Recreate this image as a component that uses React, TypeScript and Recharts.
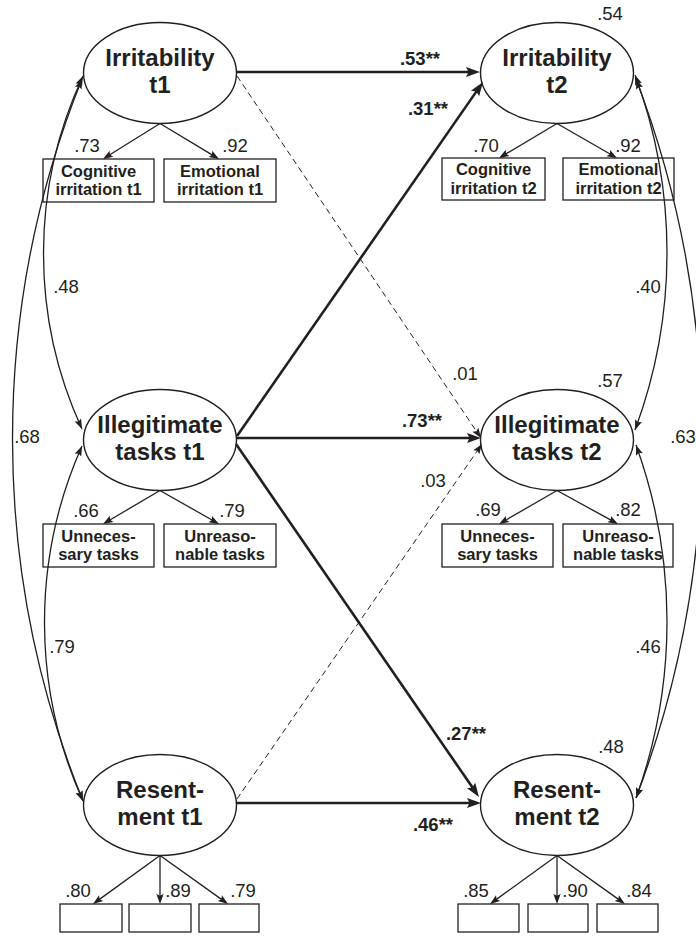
import React from 'react';
import { ComposedChart, XAxis, YAxis, Scatter, ReferenceLine } from 'recharts';

const INK = '#231f20';
const FONT = '"Liberation Sans", Arial, Helvetica, sans-serif';

// ---------------- values ----------------
const latentLabels: string[][] = [
  ['Irritability', 't1'], ['Illegitimate', 'tasks t1'], ['Resent-', 'ment t1'],
  ['Irritability', 't2'], ['Illegitimate', 'tasks t2'], ['Resent-', 'ment t2'],
];
const indicatorLabels: string[][] = [
  ['Cognitive', 'irritation t1'], ['Emotional', 'irritation t1'],
  ['Unneces-', 'sary tasks'], ['Unreaso-', 'nable tasks'],
  [], [], [],
  ['Cognitive', 'irritation t2'], ['Emotional', 'irritation t2'],
  ['Unneces-', 'sary tasks'], ['Unreaso-', 'nable tasks'],
  [], [], [],
];
const loadingValues = ['.73', '.92', '.66', '.79', '.80', '.89', '.79', '.70', '.92', '.69', '.82', '.85', '.90', '.84'];
const r2Values = ['.54', '.57', '.48'];
const pathValues = ['.53**', '.31**', '.01', '.73**', '.27**', '.03', '.46**'];
const pathSignificant = [true, true, false, true, true, false, true];
const corrValues = ['.48', '.68', '.79', '.40', '.63', '.46'];

// ---------------- layout (diagram coordinates, mapped through the axes) ----------------
const latentX = [160, 160, 160, 557, 557, 557];
const latentY = [73, 440, 805, 73, 440, 805];

const indicatorOwner = [0, 0, 1, 1, 2, 2, 2, 3, 3, 4, 4, 5, 5, 5];
const indicatorX = [98.5, 220, 98.5, 220, 91, 160, 229, 493.5, 618.5, 497.5, 618, 488.5, 558, 627.5];
const indicatorY = [180.5, 180.5, 545.5, 545.5, 918, 918, 918, 179, 179, 545.5, 545.5, 918, 918, 918];
const indicatorW = [111, 112, 111, 112, 62, 62, 60, 103, 111, 111, 110, 61, 60, 61];
const indicatorH = [43, 43, 43, 43, 28, 28, 28, 42, 42, 43, 43, 28, 28, 28];
const loadingTipX = [103, 219, 103, 219, 93, 160, 228, 499, 617, 499, 618, 490, 557, 625];
const loadingLabelX = [87, 235, 86, 232, 78, 178, 243, 486, 628, 488, 628, 476, 575, 639];
const loadingLabelY = [152, 152, 517, 517, 897, 897, 897, 152, 152, 516, 516, 897, 897, 897];

const r2LabelX = [610, 610, 611];
const r2LabelY = [20, 387, 753];

const pathFrom = [[237, 72], [237, 436], [237, 76], [237, 438], [236, 444], [237, 799], [237, 803]];
const pathTo = [[480, 72], [483, 82], [481, 438], [481, 438], [479, 797], [482, 444], [481, 803]];
const pathLabelX = [420, 428, 465, 422, 466, 433, 433];
const pathLabelY = [65, 115, 380, 427, 740, 487, 831];

const corrFrom = [[83, 76], [82, 79], [82, 446], [635, 75], [636, 79], [636, 445]];
const corrTo = [[82, 429], [83, 801], [83, 801], [635, 430], [636, 798], [636, 798]];
const corrBulge = [-39, -70, -38, 32, 66, 31];
const corrLabelX = [66, 27, 62, 648, 683, 648];
const corrLabelY = [293, 443, 653, 293, 443, 653];

// ---------------- derived chart data ----------------
const latentData = latentX.map((x, i) => ({ x, y: latentY[i], lines: latentLabels[i] }));
const indicatorData = indicatorX.map((x, i) => ({
  x, y: indicatorY[i], w: indicatorW[i], h: indicatorH[i], lines: indicatorLabels[i],
}));
const labelData = [
  ...loadingValues.map((t, i) => ({ x: loadingLabelX[i], y: loadingLabelY[i], t, bold: false })),
  ...r2Values.map((t, i) => ({ x: r2LabelX[i], y: r2LabelY[i], t, bold: false })),
  ...pathValues.map((t, i) => ({ x: pathLabelX[i], y: pathLabelY[i], t, bold: pathSignificant[i] })),
  ...corrValues.map((t, i) => ({ x: corrLabelX[i], y: corrLabelY[i], t, bold: false })),
];

// ---------------- shapes ----------------
function headPath(tx: number, ty: number, ux: number, uy: number, L: number, hw: number) {
  const bx = tx - ux * L, by = ty - uy * L;
  const nx = -uy, ny = ux;
  const kx = tx - ux * L * 0.82, ky = ty - uy * L * 0.82;
  return `M${tx},${ty} L${bx + nx * hw},${by + ny * hw} L${kx},${ky} L${bx - nx * hw},${by - ny * hw} Z`;
}

const makeStraight = (width: number, dashed: boolean, L: number, hw: number) => (p: any) => {
  const { x1, y1, x2, y2 } = p;
  const dx = x2 - x1, dy = y2 - y1;
  const len = Math.hypot(dx, dy) || 1;
  const ux = dx / len, uy = dy / len;
  const ex = x2 - ux * L * 0.75, ey = y2 - uy * L * 0.75;
  return (
    <g>
      <line x1={x1} y1={y1} x2={ex} y2={ey} stroke={INK} strokeWidth={width}
        strokeDasharray={dashed ? '6 4' : undefined} />
      <path d={headPath(x2, y2, ux, uy, L, hw)} fill={INK} stroke="none" />
    </g>
  );
};

const makeArc = (bulge: number) => (p: any) => {
  const { x1, y1, x2, y2 } = p;
  const mx = (x1 + x2) / 2, my = (y1 + y2) / 2;
  const dx = x2 - x1, dy = y2 - y1;
  const c = Math.hypot(dx, dy) || 1;
  let nx = -dy / c, ny = dx / c;
  if (nx * bulge < 0) { nx = -nx; ny = -ny; }
  const s = Math.abs(bulge);
  const r = (c * c / 4 + s * s) / (2 * s);
  const ax = mx + nx * s, ay = my + ny * s;
  const ccx = ax - nx * r, ccy = ay - ny * r;
  const cross = dx * (ay - y1) - dy * (ax - x1);
  const sweep = cross > 0 ? 0 : 1;
  const tangentAt = (px: number, py: number) => {
    let tx = -(py - ccy) / r, ty = (px - ccx) / r;
    if (tx * (px - ax) + ty * (py - ay) < 0) { tx = -tx; ty = -ty; }
    return [tx, ty];
  };
  const [u1x, u1y] = tangentAt(x1, y1);
  const [u2x, u2y] = tangentAt(x2, y2);
  return (
    <g>
      <path d={`M${x1},${y1} A${r},${r} 0 0 ${sweep} ${x2},${y2}`} fill="none" stroke={INK} strokeWidth={1.3} />
      <path d={headPath(x1, y1, u1x, u1y, 10, 3.6)} fill={INK} />
      <path d={headPath(x2, y2, u2x, u2y, 10, 3.6)} fill={INK} />
    </g>
  );
};

const LatentShape = (p: any) => {
  const { cx, cy, payload } = p;
  return (
    <g>
      <ellipse cx={cx} cy={cy} rx={76.5} ry={50.5} fill="none" stroke={INK} strokeWidth={1.4} />
      <text textAnchor="middle" fontFamily={FONT} fontWeight="bold" fontSize={24} fill={INK}>
        <tspan x={cx} y={cy - 7.5}>{payload.lines[0]}</tspan>
        <tspan x={cx} y={cy + 20}>{payload.lines[1]}</tspan>
      </text>
    </g>
  );
};

const IndicatorShape = (p: any) => {
  const { cx, cy, payload } = p;
  const { w, h, lines } = payload;
  return (
    <g>
      <rect x={cx - w / 2} y={cy - h / 2} width={w} height={h} fill="none" stroke={INK} strokeWidth={1.3} />
      {lines.length > 0 && (
        <text textAnchor="middle" fontFamily={FONT} fontWeight="bold" fontSize={16.5} fill={INK}>
          <tspan x={cx} y={cy - 4}>{lines[0]}</tspan>
          <tspan x={cx} y={cy + 14.5}>{lines[1]}</tspan>
        </text>
      )}
    </g>
  );
};

const LabelShape = (p: any) => {
  const { cx, cy, payload } = p;
  return (
    <text x={cx} y={cy} textAnchor="middle" fontFamily={FONT} fontSize={18.5}
      fontWeight={payload.bold ? 'bold' : 'normal'} fill={INK}>
      {payload.t}
    </text>
  );
};

export default function App() {
  return (
    <div style={{ position: 'absolute', left: 0, top: 0, background: '#fff' }}>
      <ComposedChart width={696} height={936} margin={{ top: 0, right: 0, bottom: 0, left: 0 }}>
        <XAxis type="number" dataKey="x" domain={[0, 696]} allowDataOverflow hide />
        <YAxis type="number" dataKey="y" domain={[0, 936]} allowDataOverflow reversed hide />

        {pathFrom.map((f, i) => (
          <ReferenceLine key={`p${i}`} ifOverflow="visible"
            segment={[{ x: f[0], y: f[1] }, { x: pathTo[i][0], y: pathTo[i][1] }]}
            shape={pathSignificant[i] ? makeStraight(2.6, false, 14, 5) : makeStraight(1.0, true, 10, 3.6)} />
        ))}
        {indicatorOwner.map((o, i) => (
          <ReferenceLine key={`l${i}`} ifOverflow="visible"
            segment={[{ x: latentX[o], y: latentY[o] + 50.5 },
              { x: loadingTipX[i], y: indicatorY[i] - indicatorH[i] / 2 }]}
            shape={makeStraight(1.3, false, 10, 3.6)} />
        ))}
        {corrFrom.map((f, i) => (
          <ReferenceLine key={`c${i}`} ifOverflow="visible"
            segment={[{ x: f[0], y: f[1] }, { x: corrTo[i][0], y: corrTo[i][1] }]}
            shape={makeArc(corrBulge[i])} />
        ))}

        <Scatter data={latentData} shape={LatentShape} isAnimationActive={false} />
        <Scatter data={indicatorData} shape={IndicatorShape} isAnimationActive={false} />
        <Scatter data={labelData} shape={LabelShape} isAnimationActive={false} />
      </ComposedChart>
    </div>
  );
}
